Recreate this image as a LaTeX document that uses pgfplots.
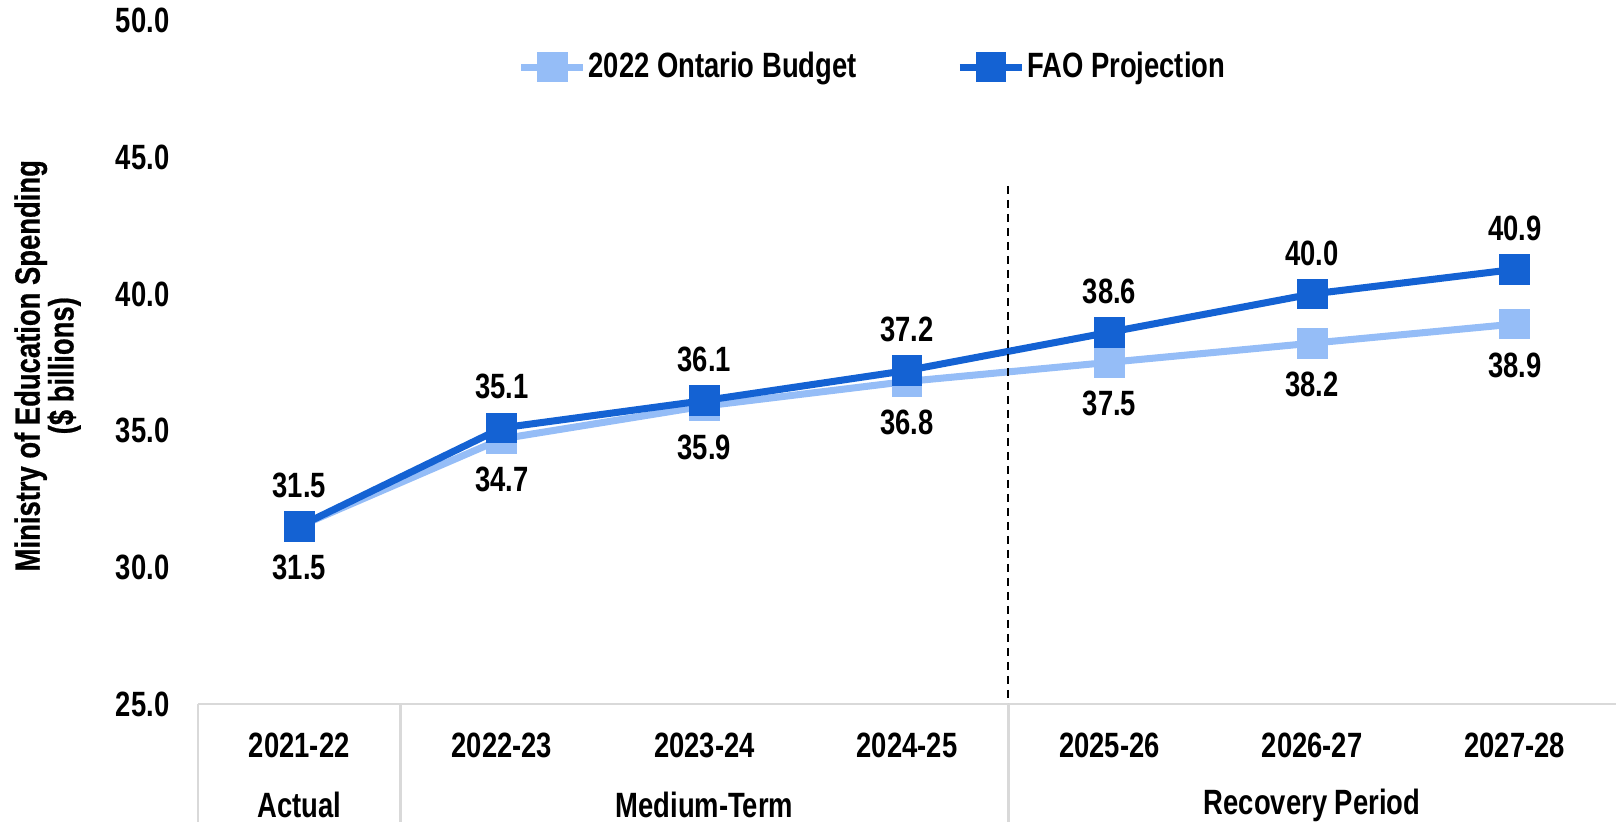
\documentclass[border=0pt]{standalone}
\usepackage{fontspec}
\setmainfont{Liberation Sans}[FakeStretch=0.78]
\usepackage{pgfplots}
\pgfplotsset{compat=1.18}
\definecolor{fao}{HTML}{1462D3}
\definecolor{budget}{HTML}{95BDF7}
\definecolor{sepgrey}{HTML}{D9D9D9}
\newcommand{\lblfont}{\fontsize{10}{9.6}\selectfont\bfseries}

\begin{document}
\begin{tikzpicture}
\begin{axis}[
  at={(0,0)}, anchor=south west,
  scale only axis,
  width=14.18cm, height=6.834cm,
  xmin=-0.5, xmax=6.5,
  ymin=25, ymax=50,
  axis x line=bottom, axis y line=left,
  x axis line style={draw=sepgrey, line width=0.8pt, -},
  y axis line style={draw=none},
  major tick length=0pt,
  xtick={0,1,2,3,4,5,6},
  xticklabels={2021-22,2022-23,2023-24,2024-25,2025-26,2026-27,2027-28},
  ytick={25,30,35,40,45,50},
  /pgf/number format/assume math mode=true,
  yticklabel={\pgfmathprintnumber[fixed,fixed zerofill,precision=1]{\tick}},
  tick label style={font=\lblfont, inner sep=0pt},
  yticklabel style={anchor=east, xshift=-2.8mm},
  xticklabel style={anchor=center, yshift=-4.1mm},
  ylabel={Ministry of Education Spending\\(\$ billions)},
  ylabel style={at={(rel axis cs:0,0.495)}, anchor=center,
    yshift=15.05mm, align=center, inner sep=0pt,
    font={\fontsize{10}{9.6}\selectfont\addfontfeatures{FakeBold=0.6}\bfseries}},
  clip=false,
  nodes near coords={\pgfmathprintnumber[fixed,fixed zerofill,precision=1,assume math mode=true]{\pgfplotspointmeta}},
  legend columns=2,
  legend style={at={(0.225,0.932)}, anchor=west, draw=none, fill=none,
    font=\lblfont, inner sep=0pt,
    nodes={inner sep=0.5pt},
    /tikz/every even column/.append style={column sep=9.8mm}},
  legend image code/.code={\draw[mark repeat=2,mark phase=2,#1] plot coordinates {(0cm,0cm) (0.31cm,0cm) (0.62cm,0cm)};},
]
\addplot[color=budget, line width=2pt, mark=square*,
  mark options={fill=budget, draw=budget, line width=0.5pt, rounded corners=1.4pt, mark size=1.45mm},
  every node near coord/.style={anchor=center, yshift=-4.1mm, font=\lblfont, black, inner sep=0pt}]
  coordinates {(0,31.5) (1,34.7) (2,35.9) (3,36.8) (4,37.5) (5,38.2) (6,38.9)};
\addplot[color=fao, line width=2pt, mark=square*,
  mark options={fill=fao, draw=fao, line width=0.5pt, rounded corners=1.4pt, mark size=1.45mm},
  every node near coord/.style={anchor=center, yshift=4.1mm, font=\lblfont, black, inner sep=0pt}]
  coordinates {(0,31.5) (1,35.1) (2,36.1) (3,37.2) (4,38.6) (5,40.0) (6,40.9)};
\legend{2022 Ontario Budget, FAO Projection}
% recovery period divider
\draw[black, line width=0.6pt, dash pattern=on 0.8mm off 0.6mm] (axis cs:3.5,43.95) -- (axis cs:3.5,25);
% category group separators below the axis
\draw[sepgrey, line width=0.8pt] (axis cs:-0.5,25) -- ([yshift=-1.2cm]axis cs:-0.5,25);
\draw[sepgrey, line width=0.8pt] (axis cs:0.5,25) -- ([yshift=-1.2cm]axis cs:0.5,25);
\draw[sepgrey, line width=0.8pt] (axis cs:3.5,25) -- ([yshift=-1.2cm]axis cs:3.5,25);
\node[font=\lblfont, inner sep=0pt] at ([yshift=-10.1mm]axis cs:0,25) {Actual};
\node[font=\lblfont, inner sep=0pt] at ([yshift=-10.1mm]axis cs:2,25) {Medium-Term};
\node[font=\lblfont, inner sep=0pt] at ([yshift=-10.1mm]axis cs:5,25) {Recovery Period};
\end{axis}
\pgfresetboundingbox
\useasboundingbox (-1.98cm,-1.18cm) rectangle (14.20cm,7.04cm);
\end{tikzpicture}
\end{document}
